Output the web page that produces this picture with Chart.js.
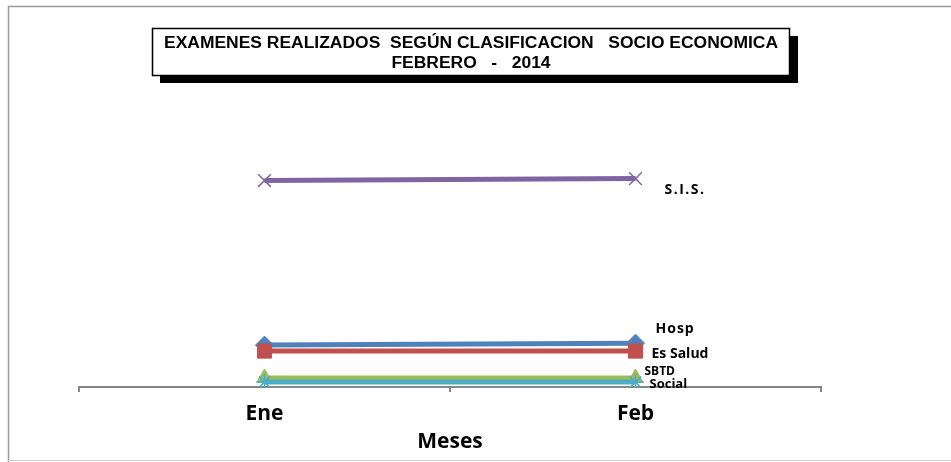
<!DOCTYPE html>
<html>
<head>
<meta charset="utf-8">
<script src="https://cdn.jsdelivr.net/npm/chart.js@4/dist/chart.umd.min.js"></script>
<style>
  html, body { margin: 0; padding: 0; background: #fff; }
  #wrap { width: 951px; height: 462px; }
</style>
</head>
<body>
<div id="wrap"><canvas id="chart"></canvas></div>
<script>
const meses = ["Ene", "Feb"];
const hosp = [169, 177];
const esSalud = [145, 145];
const sbtd = [36, 36];
const sis = [833, 841];
const social = [20, 20];

const titleLines = ["EXAMENES REALIZADOS  SEGÚN CLASIFICACION   SOCIO ECONOMICA", "FEBRERO   -   2014"];

// label placement next to the last point (hand placed like in the original sheet)
const labelPos = {
  "Hosp": { dx: 20, dy: -14, size: 14, spacing: 1 },
  "Es Salud": { dx: 16, dy: 3, size: 14, spacing: 0 },
  "SBTD": { dx: 9, dy: -6, size: 12, spacing: 0 },
  "Social": { dx: 14, dy: 2, size: 13, spacing: 0 },
  "S.I.S.": { dx: 29, dy: 11, size: 14, spacing: 1.5 }
};

const frame = {
  id: 'frame',
  beforeDraw(chart) {
    const c = chart.ctx;
    c.save();
    c.fillStyle = '#fff';
    c.fillRect(0, 0, chart.width, chart.height);
    c.strokeStyle = '#9a9a9a';
    c.lineWidth = 1.5;
    c.beginPath();
    c.moveTo(8.5, 462); c.lineTo(8.5, 6.5); c.lineTo(951, 6.5);
    c.stroke();
    c.strokeStyle = '#d0d0d0';
    c.lineWidth = 1;
    c.beginPath();
    c.moveTo(8, 460.5); c.lineTo(951, 460.5);
    c.stroke();
    c.restore();
  },
  afterDraw(chart) {
    const c = chart.ctx;
    c.save();
    // title box with shadow
    c.fillStyle = '#000';
    c.fillRect(160, 36, 638, 47);
    c.fillStyle = '#fff';
    c.fillRect(152, 28, 638, 48);
    c.strokeStyle = '#000';
    c.lineWidth = 1.5;
    c.strokeRect(152.5, 28.5, 637, 47);
    c.fillStyle = '#000';
    c.textAlign = 'center';
    c.textBaseline = 'middle';
    c.font = 'bold 16px "Liberation Sans Narrow", "Arial Narrow", "Liberation Sans", Arial, sans-serif';
    const w = c.measureText(titleLines[0]).width;
    const k = 614 / w;
    c.save();
    c.translate(471, 0);
    c.scale(k, 1);
    c.fillText(titleLines[0], 0, 44);
    c.fillText(titleLines[1], 0, 64);
    c.restore();

    // series labels next to the last point
    c.textAlign = 'left';
    chart.data.datasets.forEach((ds, i) => {
      const meta = chart.getDatasetMeta(i);
      const pt = meta.data[meta.data.length - 1];
      const p = labelPos[ds.label];
      c.font = 'bold ' + p.size + 'px "Open Sans", sans-serif';
      c.letterSpacing = p.spacing + 'px';
      c.fillText(ds.label, pt.x + p.dx, pt.y + p.dy);
    });
    c.restore();
  }
};

const line = (label, data, color, style, radius, order) => ({
  label, data, order,
  borderColor: color,
  backgroundColor: color,
  borderWidth: 5,
  pointStyle: style,
  pointRadius: radius,
  pointBorderWidth: style === 'crossRot' || style === 'star' ? 1.5 : 1,
  pointBorderColor: color,
  pointBackgroundColor: color,
  tension: 0
});

new Chart(document.getElementById('chart'), {
  type: 'line',
  data: {
    labels: meses,
    datasets: [
      line('Hosp', hosp, '#4F81BD', 'rectRot', 9, 5),
      line('Es Salud', esSalud, '#C0504D', 'rect', 10, 4),
      line('SBTD', sbtd, '#9BBB59', 'triangle', 9, 3),
      line('S.I.S.', sis, '#8064A2', 'crossRot', 9, 2),
      line('Social', social, '#4BACC6', 'star', 8, 1)
    ]
  },
  options: {
    responsive: true,
    maintainAspectRatio: false,
    animation: false,
    layout: { padding: { left: 79, right: 130, top: 40, bottom: 9 } },
    plugins: {
      legend: { display: false },
      title: { display: false },
      tooltip: { enabled: false }
    },
    scales: {
      x: {
        offset: true,
        border: { display: true, color: '#868686', width: 2 },
        grid: { offset: true, drawOnChartArea: false, drawTicks: true, tickLength: 5, color: '#868686', lineWidth: 2 },
        ticks: { color: '#000', padding: 12, font: { family: '"Open Sans", sans-serif', size: 21, weight: 'bold', lineHeight: 1 } },
        title: { display: true, text: 'Meses', color: '#000', padding: { top: -5, bottom: 0 }, font: { family: '"Open Sans", sans-serif', size: 21, weight: 'bold', lineHeight: 1 } }
      },
      y: {
        display: false,
        min: 0,
        max: 1400
      }
    }
  },
  plugins: [frame]
});
</script>
</body>
</html>
